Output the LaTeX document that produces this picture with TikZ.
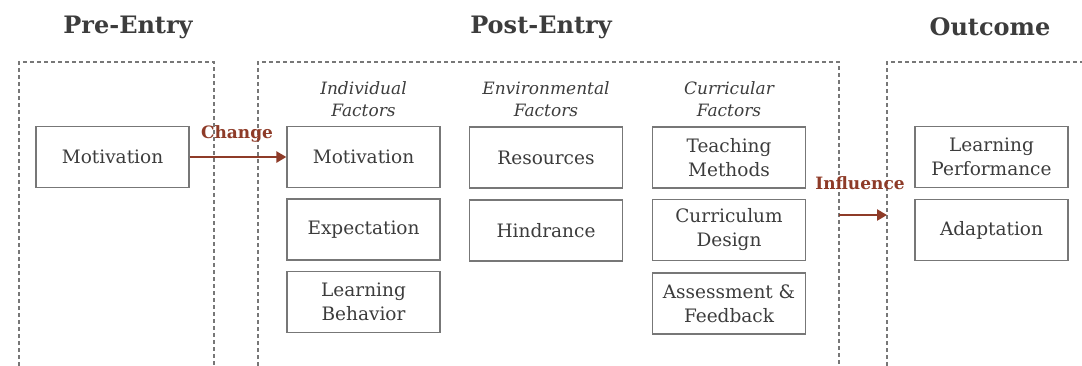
\documentclass[tikz,border=0pt]{standalone}
\usepackage{fontspec}
\setmainfont{DejaVu Serif}
\usetikzlibrary{positioning,arrows.meta}

\definecolor{boxgray}{HTML}{777777}
\definecolor{textgray}{HTML}{3C3C3C}
\definecolor{arrowred}{HTML}{8E3B28}

\tikzset{
	factor/.style={draw=boxgray, line width=1.3pt, minimum width=153pt, minimum height=61pt,
		inner sep=0pt, align=center, text=textgray, font=\fontsize{18.5}{24}\selectfont},
	frame/.style={draw=boxgray, dash pattern=on 4pt off 3pt, line width=1.2pt},
	phase/.style={text=textgray, font=\bfseries\fontsize{24}{30}\selectfont},
	group/.style={text=textgray, align=center, font=\itshape\fontsize{17}{22}\selectfont},
	flow/.style={-{Triangle[length=10pt,width=11pt]}, draw=arrowred, line width=2.8pt},
	flowlabel/.style={text=arrowred, font=\bfseries\fontsize{17}{20}\selectfont},
}

\begin{document}
\begin{tikzpicture}[x=1pt,y=-1pt]
		\useasboundingbox (0,0) rectangle (1082,365);
		\clip (0,0) rectangle (1082,365);

		% phase frames, open at the bottom
		\draw [frame] (19,380) -- (19,62) -- (214,62) -- (214,380);
		\draw [frame] (258,380) -- (258,62) -- (839,62) -- (839,380);
		\draw [frame] (887,380) -- (887,62) -- (1100,62);

		\draw (128,27) node [phase] (pre) {Pre-Entry};
		\draw (541,27) node [phase] (post) {Post-Entry};
		\draw (990,27) node [phase] (out) {Outcome};

		\draw (363.5,99) node [group] (ind) {Individual\\Factors};
		\draw (546,99) node [group] (env) {Environmental\\Factors};
		\draw (729,99) node [group] (cur) {Curricular\\Factors};

		\draw (112.5,157) node [factor] (m0) {Motivation};

		\draw (363.5,157) node [factor] (m1) {Motivation};
		\draw (363.5,229.5) node [factor] (ex) {Expectation};
		\draw (363.5,302) node [factor] (lb) {Learning\\Behavior};

		\draw (546,157.5) node [factor] (res) {Resources};
		\draw (546,230.5) node [factor] (hin) {Hindrance};

		\draw (729,157.5) node [factor] (tm) {Teaching\\Methods};
		\draw (729,230) node [factor] (cd) {Curriculum\\Design};
		\draw (729,303.5) node [factor] (af) {Assessment \&\\Feedback};

		\draw (991.5,157) node [factor] (lp) {Learning\\Performance};
		\draw (991.5,230) node [factor] (ad) {Adaptation};

		\coordinate (inflA) at (839,215);
		\coordinate (inflB) at (887,215);

		\draw [flow] (m0) -- (m1);
		\draw (237,134) node [flowlabel] {Change};
		\draw [flow] (inflA) -- (inflB);
		\draw (860,183) node [flowlabel] {Influence};
	\end{tikzpicture}
\end{document}
